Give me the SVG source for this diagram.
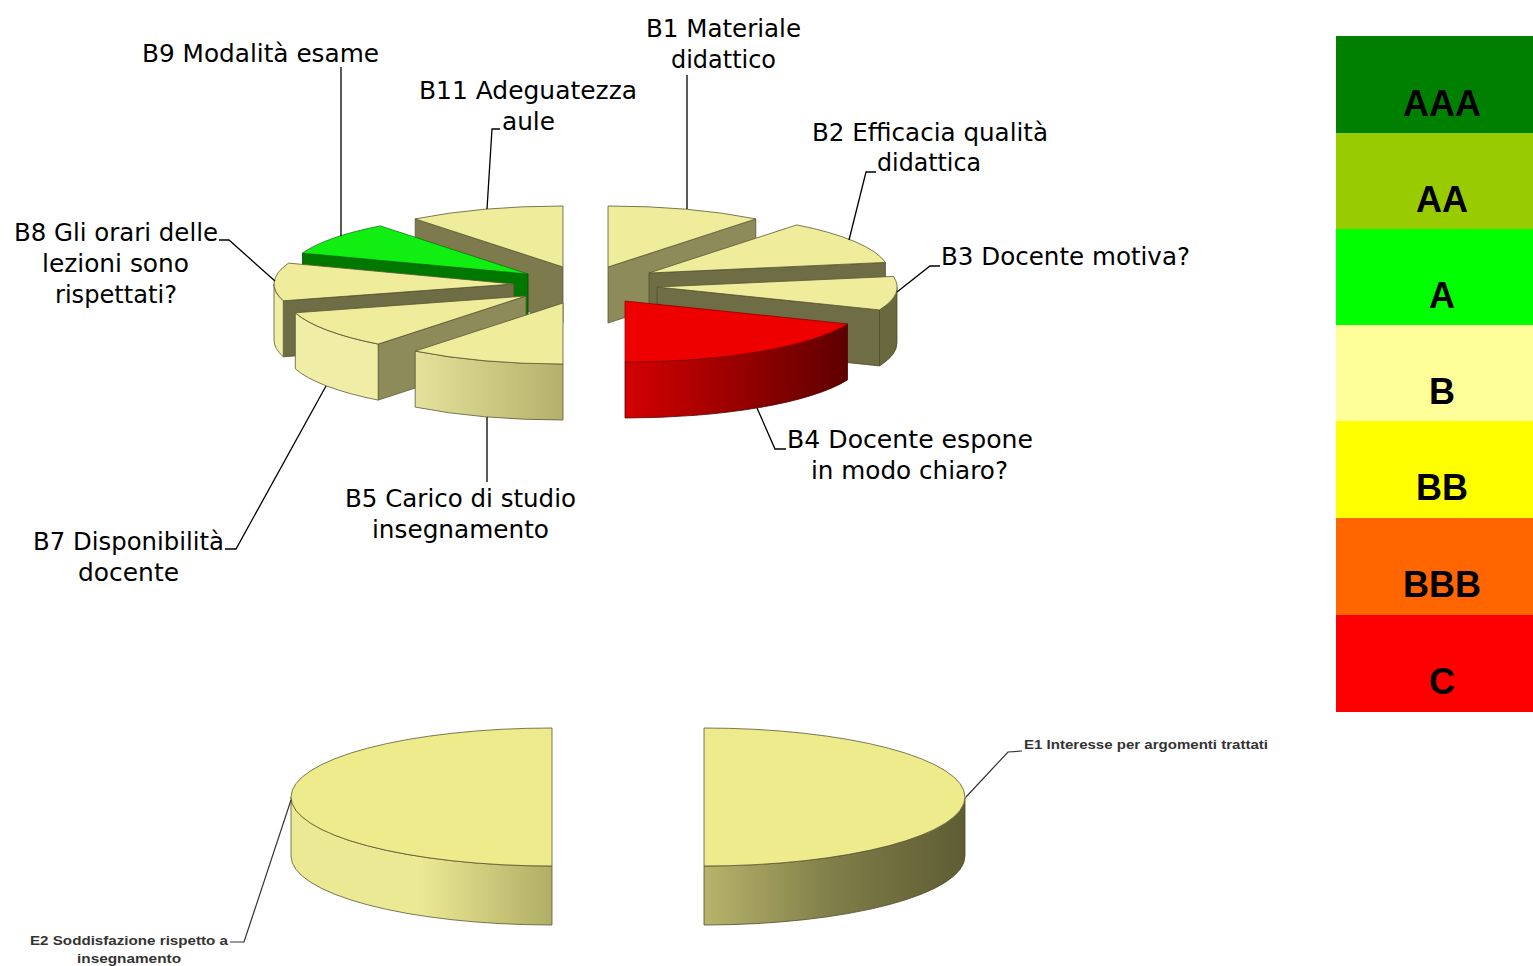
<svg xmlns="http://www.w3.org/2000/svg" width="1533" height="966" viewBox="0 0 1533 966">
<style>
.lbl{font-family:"DejaVu Sans",sans-serif;font-size:24px;fill:#000}
.sm{font-family:"Liberation Sans",Arial,sans-serif;font-size:13px;fill:#333;font-weight:bold}
.leg{font-family:"Liberation Sans",Arial,sans-serif;font-size:36px;font-weight:bold;fill:#000;text-anchor:middle}
.top{fill:#EFEC9C;stroke:#5A5832;stroke-width:0.8;stroke-linejoin:round}
.topb{fill:#EDEB8C;stroke:#5A5832;stroke-width:0.8;stroke-linejoin:round}
.olA{fill:#8E8B5A;stroke:#5A5832;stroke-width:0.8}
.olB{fill:#6F6D45;stroke:#4E4C2C;stroke-width:0.8}
.olC{fill:#7D7A4E;stroke:#5A5832;stroke-width:0.8}
.sideL{fill:url(#gL);stroke:#5A5832;stroke-width:0.8}
.ld{fill:none;stroke:#000;stroke-width:1.3}
.lds{fill:none;stroke:#333;stroke-width:1.2}
</style>
<defs>
<linearGradient id="gL" gradientUnits="userSpaceOnUse" x1="380" y1="0" x2="563" y2="0">
<stop offset="0" stop-color="#F0EDA6"/><stop offset="1" stop-color="#B5B16C"/>
</linearGradient>
<linearGradient id="gR" gradientUnits="userSpaceOnUse" x1="625" y1="0" x2="847" y2="0">
<stop offset="0" stop-color="#D40000"/><stop offset="1" stop-color="#5E0000"/>
</linearGradient>
<linearGradient id="gBL" gradientUnits="userSpaceOnUse" x1="420" y1="0" x2="552" y2="0">
<stop offset="0" stop-color="#ECE994"/><stop offset="1" stop-color="#B0AD66"/>
</linearGradient>
<linearGradient id="gBR" gradientUnits="userSpaceOnUse" x1="704" y1="0" x2="965" y2="0">
<stop offset="0" stop-color="#B8B46C"/><stop offset="0.5" stop-color="#7F7D48"/><stop offset="1" stop-color="#5E5C33"/>
</linearGradient>
</defs>
<rect width="1533" height="966" fill="#fff"/>

<g id="B11">
<path class="olC" d="M563,267 L415.2,218.9 L415.2,274.9 L563,323 Z"/>
<path class="top" d="M563,267 L415.2,218.9 A240,61 0 0 1 563,206 Z"/>
</g>
<g id="B9">
<path d="M528,274 L302.5,253.1 L302.5,309.1 L528,330 Z" fill="#007800" stroke="#004800" stroke-width="0.8"/>
<path d="M528,274 L302.5,253.1 A240,61 0 0 1 380.2,225.9 Z" fill="#11EE11" stroke="#0A7A0A" stroke-width="0.8"/>
</g>
<g id="B8">
<path class="olB" d="M514,284 L283.3,300.8 L283.3,356.8 L514,340 Z"/>
<path class="sideL" d="M283.3,300.8 A240,61 0 0 1 274,284 L274,340 A240,61 0 0 0 283.3,356.8 Z"/>
<path class="top" d="M514,284 L283.3,300.8 A240,61 0 0 1 288.5,263.1 Z"/>
</g>
<g id="B7">
<path class="olA" d="M526,296 L378.2,344.1 L378.2,400.1 L526,352 Z"/>
<path class="sideL" d="M378.2,344.1 A240,61 0 0 1 295.3,312.8 L295.3,368.8 A240,61 0 0 0 378.2,400.1 Z"/>
<path class="top" d="M526,296 L378.2,344.1 A240,61 0 0 1 295.3,312.8 Z"/>
</g>
<g id="B5">
<path class="sideL" d="M563,364 A240,61 0 0 1 415.2,351.1 L415.2,407.1 A240,61 0 0 0 563,420 Z"/>
<path class="top" d="M563,303 L563,364 A240,61 0 0 1 415.2,351.1 Z"/>
</g>
<g id="B1">
<path class="olA" d="M608,267 L755.8,218.9 L755.8,274.9 L608,323 Z"/>
<path class="top" d="M608,267 L608,206 A240,61 0 0 1 755.8,218.9 Z"/>
</g>
<g id="B2">
<path class="olB" d="M649,273 L885.4,262.4 L885.4,318.4 L649,329 Z"/>
<path class="top" d="M649,273 L796.8,224.9 A240,61 0 0 1 885.4,262.4 Z"/>
</g>
<g id="B3">
<path class="olB" d="M657,287 L879.5,309.9 L879.5,365.9 L657,343 Z"/>
<path d="M897,287 A240,61 0 0 1 879.5,309.9 L879.5,365.9 A240,61 0 0 0 897,343 Z" fill="#6A683F" stroke="#4E4C2C" stroke-width="0.8"/>
<path class="top" d="M657,287 L893.4,276.4 A240,61 0 0 1 879.5,309.9 Z"/>
</g>
<g id="B4">
<path d="M847.5,323.9 A240,61 0 0 1 625,362 L625,418 A240,61 0 0 0 847.5,379.9 Z" fill="url(#gR)" stroke="#500000" stroke-width="0.8"/>
<path d="M625,301 L847.5,323.9 A240,61 0 0 1 625,362 Z" fill="#EE0000" stroke="#900000" stroke-width="0.8"/>
</g>

<g id="E2">
<path d="M291,797 A261,69 0 0 0 552,866 L552,925 A261,69 0 0 1 291,856 Z" fill="url(#gBL)" stroke="#5A5832" stroke-width="0.8"/>
<path class="topb" d="M552,728 A261,69 0 0 0 552,866 Z"/>
</g>
<g id="E1">
<path d="M965,797 A261,69 0 0 1 704,866 L704,925 A261,69 0 0 0 965,856 Z" fill="url(#gBR)" stroke="#4E4C2C" stroke-width="0.8"/>
<path class="topb" d="M704,728 A261,69 0 0 1 704,866 Z"/>
</g>

<g id="connectors">
<polyline class="ld" points="687,75 687,209"/>
<polyline class="ld" points="341,67 341,236"/>
<polyline class="ld" points="500,129 492,129 487,209"/>
<polyline class="ld" points="876,172 866,172 849,240"/>
<polyline class="ld" points="940,266 930,266 897,292"/>
<polyline class="ld" points="219,240 229,240 275,281"/>
<polyline class="ld" points="786,449 775,449 757,408"/>
<polyline class="ld" points="487,417 487,482"/>
<polyline class="ld" points="225,549 236,549 326,386"/>
<polyline class="lds" points="966,797 1008,752 1022,751"/>
<polyline class="lds" points="230,942 244,942 291,800"/>
</g>

<g id="labels">
<text class="lbl" x="646" y="37" textLength="155" lengthAdjust="spacingAndGlyphs">B1 Materiale</text>
<text class="lbl" x="671" y="68" textLength="105" lengthAdjust="spacingAndGlyphs">didattico</text>
<text class="lbl" x="142" y="62" textLength="237" lengthAdjust="spacingAndGlyphs">B9 Modalità esame</text>
<text class="lbl" x="419" y="99" textLength="218" lengthAdjust="spacingAndGlyphs">B11 Adeguatezza</text>
<text class="lbl" x="502" y="130" textLength="53" lengthAdjust="spacingAndGlyphs">aule</text>
<text class="lbl" x="812" y="141" textLength="236" lengthAdjust="spacingAndGlyphs">B2 Efficacia qualità</text>
<text class="lbl" x="877" y="171" textLength="104" lengthAdjust="spacingAndGlyphs">didattica</text>
<text class="lbl" x="941" y="265" textLength="249" lengthAdjust="spacingAndGlyphs">B3 Docente motiva?</text>
<text class="lbl" x="14" y="241" textLength="204" lengthAdjust="spacingAndGlyphs">B8 Gli orari delle</text>
<text class="lbl" x="42" y="272" textLength="147" lengthAdjust="spacingAndGlyphs">lezioni sono</text>
<text class="lbl" x="55" y="303" textLength="122" lengthAdjust="spacingAndGlyphs">rispettati?</text>
<text class="lbl" x="787" y="448" textLength="246" lengthAdjust="spacingAndGlyphs">B4 Docente espone</text>
<text class="lbl" x="811" y="479" textLength="197" lengthAdjust="spacingAndGlyphs">in modo chiaro?</text>
<text class="lbl" x="345" y="507" textLength="231" lengthAdjust="spacingAndGlyphs">B5 Carico di studio</text>
<text class="lbl" x="372" y="538" textLength="177" lengthAdjust="spacingAndGlyphs">insegnamento</text>
<text class="lbl" x="33" y="550" textLength="191" lengthAdjust="spacingAndGlyphs">B7 Disponibilità</text>
<text class="lbl" x="78" y="581" textLength="101" lengthAdjust="spacingAndGlyphs">docente</text>
<text class="sm" x="1024" y="749" textLength="244" lengthAdjust="spacingAndGlyphs">E1 Interesse per argomenti trattati</text>
<text class="sm" x="30" y="945" textLength="198" lengthAdjust="spacingAndGlyphs">E2 Soddisfazione rispetto a</text>
<text class="sm" x="77" y="963" textLength="104" lengthAdjust="spacingAndGlyphs">insegnamento</text>
</g>

<g id="legend">
<rect x="1336" y="36" width="197" height="97" fill="#008000"/>
<rect x="1336" y="133" width="197" height="96" fill="#99CC00"/>
<rect x="1336" y="229" width="197" height="96" fill="#00FF00"/>
<rect x="1336" y="325" width="197" height="96" fill="#FFFF99"/>
<rect x="1336" y="421" width="197" height="97" fill="#FFFF00"/>
<rect x="1336" y="518" width="197" height="97" fill="#FF6600"/>
<rect x="1336" y="615" width="197" height="97" fill="#FF0000"/>
<text class="leg" x="1442" y="116">AAA</text>
<text class="leg" x="1442" y="212">AA</text>
<text class="leg" x="1442" y="308">A</text>
<text class="leg" x="1442" y="404">B</text>
<text class="leg" x="1442" y="500">BB</text>
<text class="leg" x="1442" y="597">BBB</text>
<text class="leg" x="1442" y="694">C</text>
</g>
</svg>
